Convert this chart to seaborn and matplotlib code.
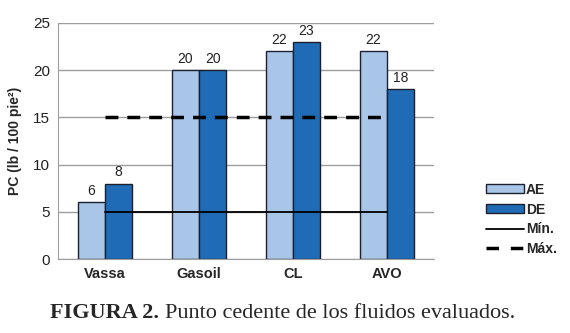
import pandas as pd
import matplotlib
matplotlib.use("Agg")
import matplotlib.pyplot as plt
import seaborn as sns
from matplotlib.lines import Line2D
from matplotlib.patches import Patch

# Data
fluidos = ['Vassa', 'Gasoil', 'CL', 'AVO']
ae = [6, 20, 22, 22]
de = [8, 20, 23, 18]
pc_min = [5, 5, 5, 5]
pc_max = [15, 15, 15, 15]

df = pd.DataFrame({
    'fluido': fluidos * 2,
    'PC': ae + de,
    'serie': ['AE'] * 4 + ['DE'] * 4,
})

sns.set_style('white')
plt.rcParams['font.family'] = ['Liberation Sans', 'DejaVu Sans']

fig = plt.figure(figsize=(5.7, 3.33), dpi=100)
ax = fig.add_axes([0.102, 0.222, 0.659, 0.709])

colores = {'AE': '#a9c6e8', 'DE': '#1f6bb5'}
borde = '#1a2030'
sns.barplot(data=df, x='fluido', y='PC', hue='serie', palette=colores,
            saturation=1, width=0.58, edgecolor=borde, linewidth=1.0, ax=ax,
            legend=False, zorder=2)

for cont in ax.containers:
    ax.bar_label(cont, fmt='%d', padding=3, fontsize=10, color='#222222')

# reference lines across the categories
pos = list(range(len(fluidos)))
ax.plot(pos, pc_min, color='black', lw=1.3, zorder=3)
ax.plot(pos, pc_max, color='black', lw=2.5, ls=(0, (3.7, 2.6)), zorder=3)

ax.set_ylim(0, 25)
ax.set_yticks([0, 5, 10, 15, 20, 25])
ax.set_xlim(-0.5, 3.5)
ax.yaxis.grid(True, color='#9e9e9e', lw=1.0)
ax.set_axisbelow(True)
for s in ['top', 'right']:
    ax.spines[s].set_visible(False)
ax.spines['left'].set_color('#9e9e9e')
ax.spines['bottom'].set_color('#9e9e9e')
ax.tick_params(axis='both', length=0, pad=6)
ax.tick_params(axis='y', labelsize=11, labelcolor='#222222')
ax.tick_params(axis='x', labelsize=10.5)
for lab in ax.get_xticklabels():
    lab.set_fontweight('bold')
ax.set_xlabel('')
ax.set_ylabel('PC (lb / 100 pie²)', fontsize=10, fontweight='bold', labelpad=8)

handles = [
    Patch(facecolor=colores['AE'], edgecolor=borde, lw=1.0),
    Patch(facecolor=colores['DE'], edgecolor=borde, lw=1.0),
    Line2D([0], [0], color='black', lw=1.3),
    Line2D([0], [0], color='black', lw=2.5, ls=(0, (3.6, 3.4))),
]
fig.legend(handles, ['AE', 'DE', 'Mín.', 'Máx.'], loc='center left',
           bbox_to_anchor=(0.84, 0.341), frameon=False, borderpad=0,
           handlelength=2.75, handleheight=0.65, handletextpad=0.15,
           labelspacing=0.42, prop={'weight': 'bold', 'size': 10})

# caption: bold prefix followed by regular text
t1 = fig.text(50 / 570, 0.06, 'FIGURA 2.', ha='left', va='center',
              fontsize=16, fontweight='bold', family='Liberation Serif')
fig.canvas.draw()
bb = t1.get_window_extent()
x2 = (bb.x1 + 6) / fig.bbox.width
fig.text(x2, 0.06, 'Punto cedente de los fluidos evaluados.', ha='left',
         va='center', fontsize=16, family='Liberation Serif')

fig.savefig('out.png', dpi=100)
